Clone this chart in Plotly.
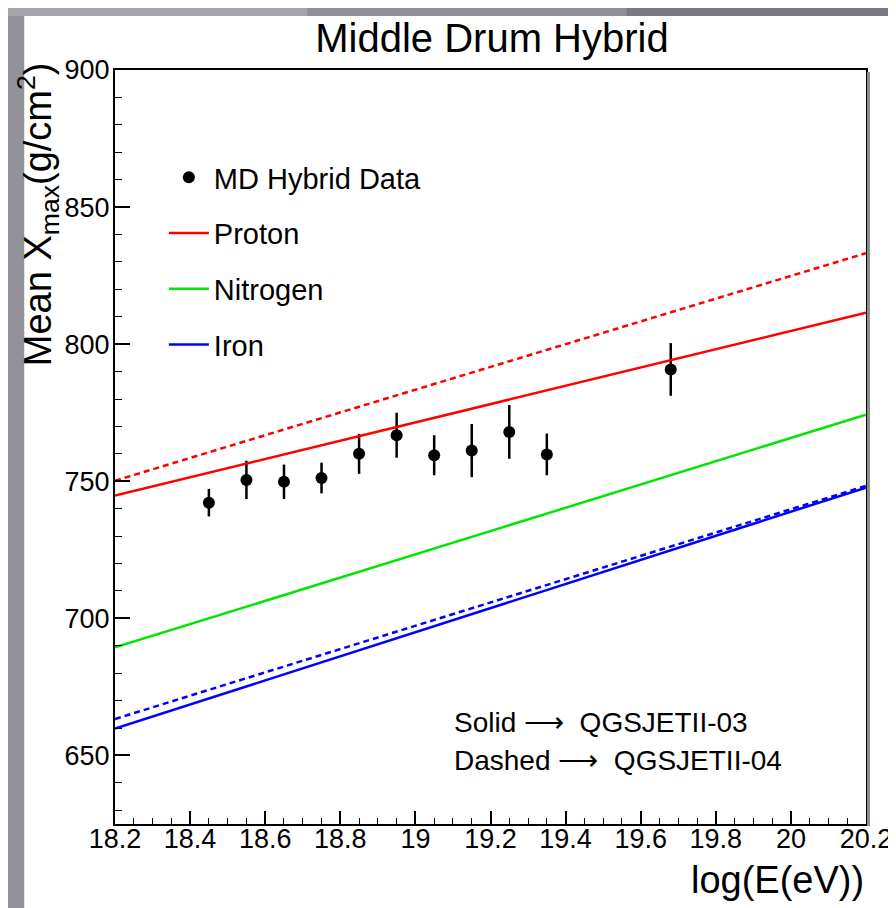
import plotly.graph_objects as go

# ---------------- data ----------------
energy = [18.45, 18.55, 18.65, 18.75, 18.85, 18.95, 19.05, 19.15, 19.25, 19.35, 19.68]
xmax_data = [742.2, 750.5, 749.8, 751.2, 760.0, 766.8, 759.5, 761.2, 768.0, 759.8, 790.8]
xmax_err = [5.0, 7.0, 6.3, 5.6, 7.3, 8.2, 7.3, 9.7, 9.8, 7.6, 9.6]

line_energy = [18.2, 20.2]
proton_qgs03 = [744.8, 811.5]
proton_qgs04 = [750.2, 833.2]
nitrogen_qgs03 = [689.4, 774.3]
iron_qgs03 = [659.8, 747.7]
iron_qgs04 = [663.3, 748.3]

x_ticks = [18.2, 18.4, 18.6, 18.8, 19.0, 19.2, 19.4, 19.6, 19.8, 20.0, 20.2]
x_tick_text = ["18.2", "18.4", "18.6", "18.8", "19", "19.2", "19.4", "19.6", "19.8", "20", "20.2"]
y_ticks = [650, 700, 750, 800, 850, 900]

# ---------------- geometry ----------------
W, H = 896, 908
L, R, T, B = 107, 36, 62, 92
PW, PH = W - L - R, H - T - B


def px(x):
    return (x - L) / PW


def py(y):
    return (H - B - y) / PH


FONT = "Liberation Sans, Arial, sans-serif"

fig = go.Figure()

fig.add_trace(go.Scatter(
    x=energy, y=xmax_data, mode="markers", name="MD Hybrid Data",
    marker=dict(color="black", size=12, symbol="circle"),
    error_y=dict(type="data", array=xmax_err, visible=True, color="black", thickness=2.5, width=0),
    legendgroup="d",
))
fig.add_trace(go.Scatter(
    x=line_energy, y=proton_qgs03, mode="lines", name="Proton",
    line=dict(color="#ff0000", width=2.5), legendgroup="p",
))
fig.add_trace(go.Scatter(
    x=line_energy, y=nitrogen_qgs03, mode="lines", name="Nitrogen",
    line=dict(color="#00e600", width=2.5), legendgroup="n",
))
fig.add_trace(go.Scatter(
    x=line_energy, y=iron_qgs03, mode="lines", name="Iron",
    line=dict(color="#0000ff", width=2.5), legendgroup="f",
))
fig.add_trace(go.Scatter(
    x=line_energy, y=proton_qgs04, mode="lines", name="Proton (QGSJETII-04)",
    line=dict(color="#ff0000", width=2.5, dash="6px,4px"), showlegend=False,
))
fig.add_trace(go.Scatter(
    x=line_energy, y=iron_qgs04, mode="lines", name="Iron (QGSJETII-04)",
    line=dict(color="#0000ff", width=2.5, dash="6px,4px"), showlegend=False,
))

shapes = [
    # white slide area (grey band remains at left/top)
    dict(type="rect", xref="paper", yref="paper", layer="below",
         x0=px(16), x1=px(W + 5), y0=py(H + 5), y1=py(8),
         fillcolor="white", line=dict(width=0)),
    # top band gradient pieces
    dict(type="rect", xref="paper", yref="paper", layer="below",
         x0=px(-5), x1=px(300), y0=py(8), y1=py(-5),
         fillcolor="#a3a3ab", line=dict(width=0)),
    dict(type="rect", xref="paper", yref="paper", layer="below",
         x0=px(300), x1=px(620), y0=py(8), y1=py(-5),
         fillcolor="#8f8f98", line=dict(width=0)),
    dict(type="rect", xref="paper", yref="paper", layer="below",
         x0=px(620), x1=px(W + 5), y0=py(8), y1=py(-5),
         fillcolor="#7a7a84", line=dict(width=0)),
    # right frame shadow
    dict(type="line", xref="paper", yref="paper",
         x0=px(862.5), x1=px(862.5), y0=py(818), y1=py(64),
         line=dict(color="#8c8c8c", width=3)),
]

annotations = [
    dict(text="Mean X<sub>max</sub>(g/cm<sup>2</sup>)", textangle=-90,
         xref="paper", yref="paper", x=px(30), y=py(52), xanchor="center", yanchor="top",
         showarrow=False, font=dict(family=FONT, size=38, color="black")),
    dict(text="log(E(eV))", xref="paper", yref="paper", x=px(860), y=py(872),
         xanchor="right", yanchor="middle", showarrow=False,
         font=dict(family=FONT, size=38, color="black")),
    dict(text="Solid \u27f6  QGSJETII-03", xref="paper", yref="paper", x=px(445), y=py(714),
         xanchor="left", yanchor="middle", showarrow=False,
         font=dict(family=FONT, size=28, color="black")),
    dict(text="Dashed \u27f6  QGSJETII-04", xref="paper", yref="paper", x=px(445), y=py(752),
         xanchor="left", yanchor="middle", showarrow=False,
         font=dict(family=FONT, size=28, color="black")),
]

fig.update_layout(
    width=W, height=H,
    margin=dict(l=L, r=R, t=T, b=B),
    paper_bgcolor="#92929a",
    plot_bgcolor="white",
    title=dict(text="Middle Drum Hybrid", x=px(485), xref="paper", xanchor="center",
               y=1 - 30 / H, yref="container", yanchor="middle",
               font=dict(family=FONT, size=40, color="black")),
    showlegend=True,
    legend=dict(x=px(156), y=py(144), xanchor="left", yanchor="top",
                bgcolor="rgba(255,255,255,0)", borderwidth=0,
                font=dict(family=FONT, size=29, color="black"),
                itemwidth=40,
                tracegroupgap=15, traceorder="grouped"),
    shapes=shapes,
    annotations=annotations,
)

fig.update_xaxes(
    range=[18.2, 20.2], tickvals=x_ticks, ticktext=x_tick_text,
    ticks="inside", ticklen=13, tickwidth=1.5, tickcolor="black",
    minor=dict(dtick=0.05, tick0=18.2, ticks="inside", ticklen=6, tickcolor="black", tickwidth=1),
    showline=True, linecolor="black", linewidth=2, mirror=True,
    showgrid=False, zeroline=False,
    tickfont=dict(family=FONT, size=27, color="black"),
    ticklabelstandoff=-10,
)
fig.update_yaxes(
    range=[625, 900], tickvals=y_ticks,
    ticks="inside", ticklen=15, tickwidth=1.5, tickcolor="black",
    minor=dict(dtick=10, tick0=600, ticks="inside", ticklen=7, tickcolor="black", tickwidth=1),
    showline=True, linecolor="black", linewidth=2, mirror=True,
    showgrid=False, zeroline=False,
    tickfont=dict(family=FONT, size=27, color="black"),
    ticklabelstandoff=-2,
)

fig.write_html("out.html")
